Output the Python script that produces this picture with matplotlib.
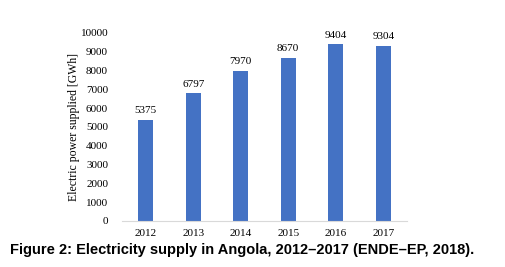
import matplotlib.pyplot as plt

years = ['2012', '2013', '2014', '2015', '2016', '2017']
supply = [5375, 6797, 7970, 8670, 9404, 9304]
yticks = [0, 1000, 2000, 3000, 4000, 5000, 6000, 7000, 8000, 9000, 10000]

fig = plt.figure(figsize=(5.06, 2.67), dpi=100)
ax = fig.add_axes([122 / 506, 1 - 221 / 267, 285 / 506, 188 / 267])

x = range(len(years))
bars = ax.bar(x, supply, width=0.31, color='#4472C4')
for xi, v in zip(x, supply):
    ax.text(xi, v + 250, str(v), ha='center', va='bottom',
            family='Liberation Serif', fontsize=8)

ax.set_xlim(-0.5, len(years) - 0.5)
ax.set_ylim(0, 10000)
ax.set_xticks(list(x))
ax.set_xticklabels(years, family='Liberation Serif', fontsize=8)
ax.set_yticks(yticks)
ax.set_yticklabels([str(t) for t in yticks], family='Liberation Serif', fontsize=8)
ax.tick_params(axis='y', length=0, pad=10)
ax.tick_params(axis='x', length=0, pad=6)
for s in ['top', 'right', 'left']:
    ax.spines[s].set_visible(False)
ax.spines['bottom'].set_color('#D9D9D9')
ax.set_ylabel('Electric power supplied [GWh]', family='Liberation Serif',
              fontsize=8.5, labelpad=0)

fig.text(10 / 506, 1 - 250 / 267, 'Figure 2: Electricity supply in Angola, 2012\u20132017 (ENDE\u2013EP, 2018).',
         family='Liberation Sans', fontweight='bold', fontsize=10.5, va='center', ha='left')

fig.savefig('out.png', dpi=100)
